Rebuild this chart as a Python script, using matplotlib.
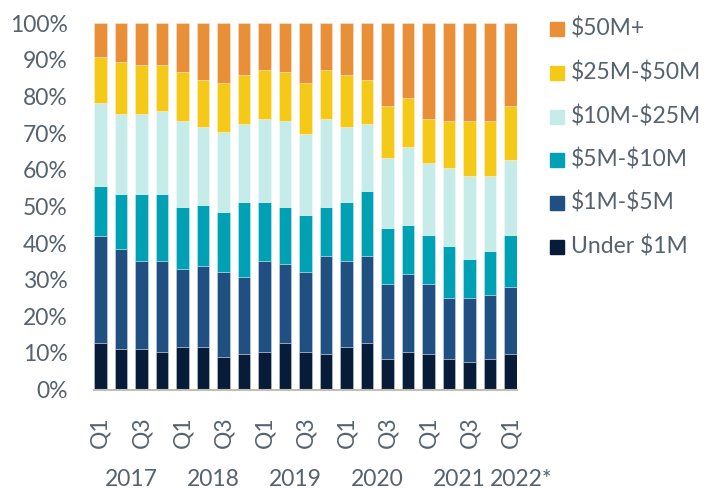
import matplotlib
matplotlib.use("Agg")
import matplotlib.pyplot as plt
from matplotlib.patches import Rectangle
import matplotlib.transforms as mtransforms
import numpy as np

plt.rcParams['font.family'] = ['Lato', 'DejaVu Sans']
plt.rcParams['text.parse_math'] = False

# ---- data ----
quarters = ['Q1', 'Q2', 'Q3', 'Q4'] * 5 + ['Q1']
years = ['2017', '2018', '2019', '2020', '2021', '2022*']
year_sizes = [4, 4, 4, 4, 4, 1]
series_names = ['Under $1M', '$1M-$5M', '$5M-$10M', '$10M-$25M', '$25M-$50M', '$50M+']
colors = ['#071c38', '#1f5081', '#00a0b5', '#c6ecea', '#f5c918', '#e98f37']

# cumulative tops (%)
top_under1 = [12.6, 11.0, 11.0, 10.3, 11.7, 11.7, 8.9, 9.6, 10.3, 12.6, 10.3, 9.6, 11.7, 12.6, 8.2, 10.3, 9.6, 8.2, 7.6, 8.2, 9.6]
top_1_5 = [42.0, 38.5, 35.0, 35.0, 33.0, 33.6, 32.1, 30.8, 35.0, 34.3, 32.1, 36.4, 35.0, 36.4, 28.7, 31.5, 28.7, 25.1, 25.1, 25.9, 28.1]
top_5_10 = [55.6, 53.4, 53.4, 53.4, 49.8, 50.5, 48.5, 51.3, 51.3, 49.8, 47.7, 49.8, 51.3, 54.1, 44.2, 44.9, 42.1, 39.3, 35.7, 37.9, 42.1]
top_10_25 = [78.1, 75.3, 75.3, 76.0, 73.2, 71.8, 70.3, 72.5, 74.0, 73.2, 69.7, 74.0, 71.8, 72.5, 63.3, 66.2, 61.8, 60.5, 58.4, 58.4, 62.6]
top_25_50 = [90.9, 89.4, 88.7, 88.7, 86.6, 84.5, 83.8, 85.9, 87.3, 86.6, 83.8, 87.3, 85.9, 84.5, 77.4, 79.5, 73.9, 73.2, 73.2, 73.2, 77.4]
top_50 = [100.0] * 21

tops = [top_under1, top_1_5, top_5_10, top_10_25, top_25_50, top_50]

# ---- figure ----
W, H = 707, 488
fig = plt.figure(figsize=(W / 100, H / 100), dpi=100)
ax = fig.add_axes([94 / W, 1 - 389.5 / H, (517 - 94) / W, (389.5 - 23.3) / H])

x = np.arange(len(quarters))
bw = 0.62
prev = np.zeros(len(quarters))
for name, top, c in zip(series_names, tops, colors):
    top = np.array(top)
    ax.bar(x, top - prev, bottom=prev, width=bw, color=c, edgecolor=(1, 1, 1, 0.35),
           linewidth=0.6, label=name, zorder=2)
    prev = top

txt_color = '#56626e'
fs = 16.5
ax.set_xlim(-bw / 2, len(quarters) - 1 + bw / 2)
ax.set_ylim(0, 100)
ax.set_yticks(np.arange(0, 101, 10))
ax.set_yticklabels([f'{v}%' for v in range(0, 101, 10)])
ax.tick_params(axis='y', length=0, pad=19, labelsize=fs, labelcolor=txt_color)

tick_idx = [i for i, q in enumerate(quarters) if q in ('Q1', 'Q3')]
ax.set_xticks(tick_idx)
ax.set_xticklabels([quarters[i] for i in tick_idx], rotation=90)
ax.tick_params(axis='x', length=0, pad=19, labelsize=fs, labelcolor=txt_color)

for s in ['top', 'right', 'left']:
    ax.spines[s].set_visible(False)
ax.spines['bottom'].set_color('#c4bdb2')
ax.spines['bottom'].set_linewidth(1.5)
ax.spines['bottom'].set_zorder(3)

# year labels
trans = mtransforms.blended_transform_factory(ax.transData, fig.transFigure)
start = 0
for yr, n in zip(years, year_sizes):
    cx = start + (n - 1) / 2
    if yr == '2022*':
        cx += 0.5
    ax.text(cx, 1 - 479 / H, yr, transform=trans, ha='center', va='center',
            fontsize=fs, color=txt_color)
    start += n

# legend (manual, top to bottom reversed order)
row_y = [29, 73, 116.5, 159.5, 203, 246.5]
for name, c, yy in zip(series_names[::-1], colors[::-1], row_y):
    fig.patches.append(Rectangle((550 / W, 1 - (yy + 7) / H), 14 / W, 14 / H,
                                 transform=fig.transFigure, color=c, figure=fig))
    fig.text(571 / W, 1 - yy / H, name, ha='left', va='center', fontsize=fs,
             color=txt_color)

fig.savefig('out.png', dpi=100)
